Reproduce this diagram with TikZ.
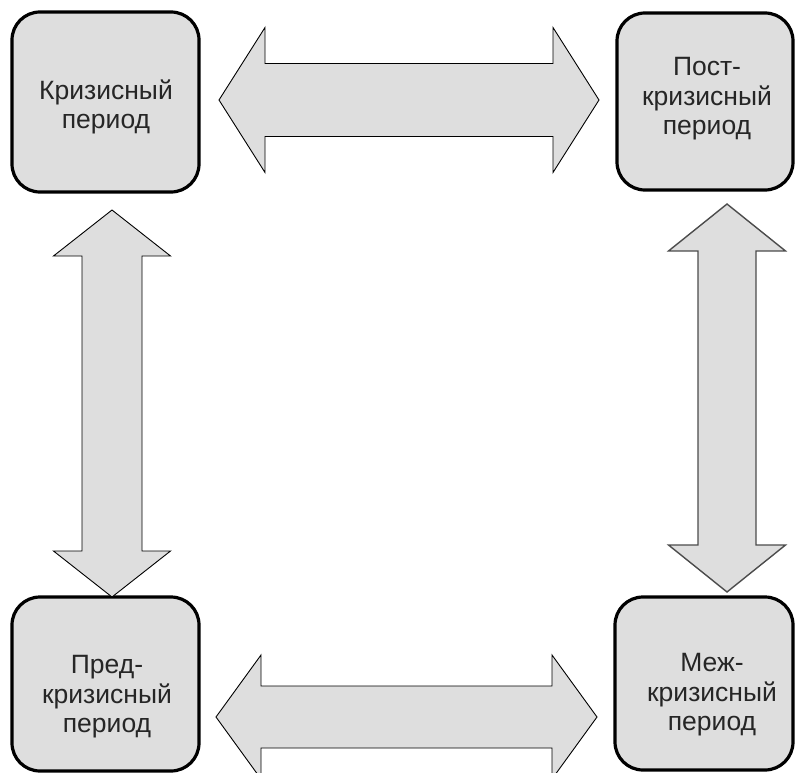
\documentclass[tikz,border=0pt]{standalone}
\usepackage{fontspec}
\setmainfont{Liberation Sans}
\definecolor{boxfill}{HTML}{DEDEDE}
\definecolor{txt}{HTML}{262626}
\tikzset{
  x=1pt, y=-1pt,
  box/.style={draw=black, line width=3.2pt, fill=boxfill, rounded corners=28pt, inner sep=0pt},
  lbl/.style={align=center, text=txt, font=\fontsize{26.5}{29.5}\selectfont, inner sep=0pt},
  barrow/.style={draw=black, line width=0.9pt, fill=boxfill, line join=miter},
  barrowg/.style={draw=black!70, line width=1.4pt, fill=boxfill, line join=miter},
}
% horizontal double arrow: x1, x2, y, shaft half, head half, head length
\newcommand{\myharrow}[7]{%
  \draw[#7] (#1,#3) -- (#1+#6,#3-#5) -- (#1+#6,#3-#4) -- (#2-#6,#3-#4) -- (#2-#6,#3-#5)
   -- (#2,#3) -- (#2-#6,#3+#5) -- (#2-#6,#3+#4) -- (#1+#6,#3+#4) -- (#1+#6,#3+#5) -- cycle;}
% vertical double arrow: y1, y2, x, shaft half, head half, head length
\newcommand{\myvarrow}[7]{%
  \draw[#7] (#3,#1) -- (#3+#5,#1+#6) -- (#3+#4,#1+#6) -- (#3+#4,#2-#6) -- (#3+#5,#2-#6)
   -- (#3,#2) -- (#3-#5,#2-#6) -- (#3-#4,#2-#6) -- (#3-#4,#1+#6) -- (#3-#5,#1+#6) -- cycle;}
\begin{document}
\begin{tikzpicture}
\useasboundingbox (0,0) rectangle (795,773);
\clip (0,0) rectangle (795,773);
% boxes
\node[box, minimum width=187pt, minimum height=180pt] (kriz) at (105.5,102) {};
\node[box, minimum width=176pt, minimum height=177pt] (post) at (705,101.5) {};
\node[box, minimum width=187pt, minimum height=174pt] (pred) at (105.5,684) {};
\node[box, minimum width=178pt, minimum height=173pt] (mezh) at (704,683.5) {};
% labels
\node[lbl] (tkriz) at (106,107) {Кризисный\\период};
\node[lbl] (tpost) at (707,99) {Пост-\\кризисный\\период};
\node[lbl] (tpred) at (107,697) {Пред-\\кризисный\\период};
\node[lbl] (tmezh) at (712,695) {Меж-\\кризисный\\период};
% arrows
\myharrow{219}{599}{100}{36.5}{72.5}{46}{barrow}
\myharrow{216}{597}{717}{31}{62}{45}{barrow}
\myvarrow{210}{597}{112}{30}{58.5}{46}{barrow}
\myvarrow{204}{592}{727}{29}{58.5}{47}{barrowg}
\end{tikzpicture}
\end{document}
